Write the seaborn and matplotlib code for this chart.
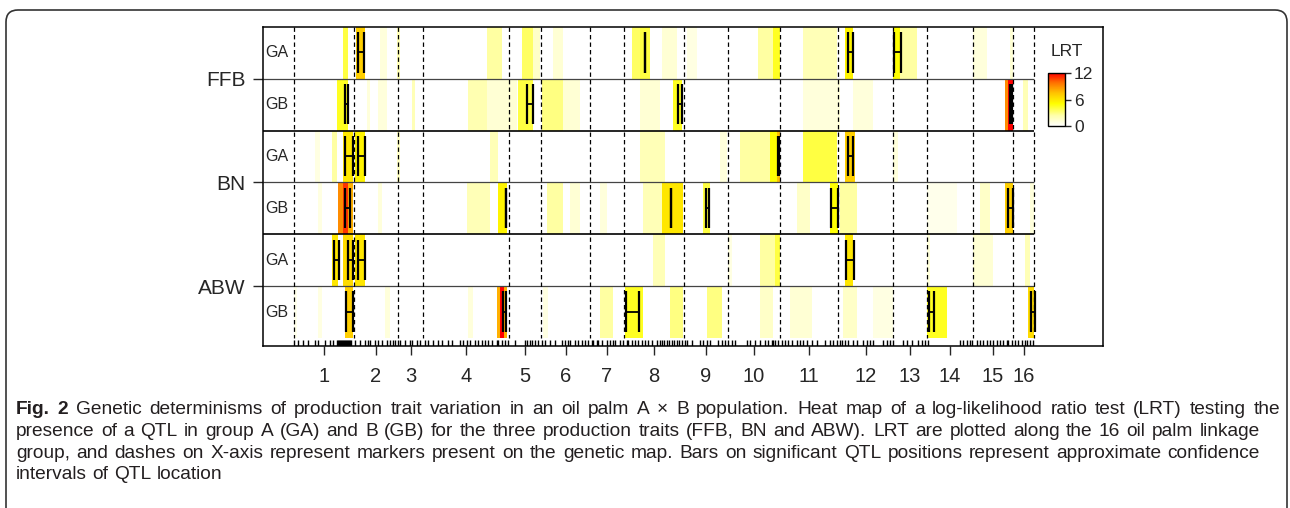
import numpy as np
import pandas as pd
import matplotlib
matplotlib.use("Agg")
import matplotlib.pyplot as plt
import seaborn as sns
from matplotlib.colors import LinearSegmentedColormap
from matplotlib.patches import FancyBboxPatch
from matplotlib.transforms import IdentityTransform

# ---- data -------------------------------------------------------------
# linkage group lengths (cM), groups 1..16
lg_lengths = [60, 44, 25, 86, 32, 49, 34, 60, 44, 52, 58, 55, 34, 46, 40, 21]
lg_labels = [str(i) for i in range(1, 17)]

traits = ["FFB", "BN", "ABW"]
groups = ["GA", "GB"]

# LRT profile as (start cM, end cM, LRT) along the whole genome
ffb_ga_lrt = [(49, 54, 4), (62, 71, 7), (86, 93, 1.0), (103, 106, 2), (193, 208, 2.5),
              (228, 239, 3.5), (239, 246, 1.5), (259, 269, 1.2), (338, 346, 3.5),
              (346, 356, 4), (368, 383, 1.2), (393, 403, 0.8), (464, 479, 2.5),
              (479, 486, 4.5), (509, 543, 2), (551, 559, 5.5), (599, 606, 5),
              (606, 623, 2.5), (679, 693, 1.0), (716, 719, 1.2)]
ffb_gb_lrt = [(43, 54, 4.5), (73, 76, 1.0), (84, 93, 1.0), (118, 121, 2), (174, 193, 2.2),
              (193, 223, 1.2), (224, 239, 4), (248, 269, 3), (269, 286, 1.2),
              (346, 366, 1.2), (379, 388, 4.5), (509, 546, 1.0), (559, 579, 1.0),
              (711, 714, 9), (714, 719, 12), (729, 734, 2)]
bn_ga_lrt = [(21, 26, 0.8), (38, 43, 2.5), (49, 59, 6), (61, 71, 5.5), (103, 106, 1.5),
             (196, 204, 2), (346, 371, 2), (426, 433, 1.0), (446, 476, 2.5),
             (476, 483, 5), (483, 486, 7.5), (509, 543, 4), (551, 561, 7), (599, 604, 1)]
bn_gb_lrt = [(24, 28, 0.8), (44, 49, 9), (49, 54, 11), (54, 59, 8), (84, 88, 1.0),
             (173, 196, 2), (204, 213, 5.5), (253, 269, 2.5), (276, 286, 1.2),
             (306, 313, 1.0), (349, 368, 2), (368, 389, 6), (409, 416, 4),
             (503, 516, 1.5), (536, 544, 5), (546, 563, 2.5), (633, 663, 0.6),
             (686, 696, 1.5), (711, 719, 7), (736, 740, 1.0)]
abw_ga_lrt = [(38, 44, 6), (49, 59, 6.5), (61, 71, 6), (359, 371, 2), (434, 438, 0.8),
              (466, 481, 2.5), (481, 486, 4), (551, 559, 6), (633, 636, 1.0),
              (679, 699, 1.2), (731, 736, 2)]
abw_gb_lrt = [(0, 3, 0.6), (24, 28, 0.8), (51, 59, 7), (91, 96, 1.0), (174, 179, 1.0),
              (203, 206, 8), (206, 210, 12), (210, 213, 8), (249, 254, 0.8),
              (306, 319, 2.5), (331, 349, 4.5), (376, 389, 3), (413, 428, 3),
              (466, 479, 1.5), (496, 518, 1.2), (549, 563, 1.5), (579, 599, 0.8),
              (633, 653, 4.5), (734, 740, 6.5)]

# QTL confidence intervals (lower cM, upper cM)
ffb_ga_ci = [(63, 69), (350, 350), (553, 558), (599, 606)]
ffb_gb_ci = [(50, 53), (232, 238), (383, 387), (715, 717)]
bn_ga_ci = [(50, 58), (63, 70), (483, 484), (553, 558)]
bn_gb_ci = [(50, 55), (211, 211), (376, 376), (411, 414), (536, 543), (713, 718)]
abw_ga_ci = [(39, 44), (53, 58), (63, 70), (551, 559)]
abw_gb_ci = [(51, 58), (208, 211), (331, 344), (634, 639), (736, 740)]

# marker positions on the genetic map (cM)
markers = [0, 4, 9, 14, 21, 24, 31, 36, 39, 43, 44, 45, 46, 47, 48, 49, 50, 51, 52, 53,
           54, 55, 56, 57, 61, 66, 71, 74, 76, 81, 84, 88, 93, 96, 99, 101, 104, 106,
           111, 116, 118, 123, 126, 131, 134, 139, 144, 148, 154, 158, 166, 169, 173,
           176, 181, 184, 188, 191, 194, 198, 203, 204, 208, 211, 214, 221, 231, 233,
           236, 238, 241, 244, 248, 251, 256, 261, 268, 271, 274, 276, 281, 284, 288,
           291, 294, 298, 299, 303, 304, 308, 313, 316, 319, 321, 326, 329, 333, 334,
           338, 341, 344, 348, 351, 354, 358, 363, 366, 368, 370, 373, 375, 378, 380,
           383, 385, 388, 391, 393, 398, 406, 409, 413, 416, 424, 428, 431, 434, 438,
           441, 453, 456, 461, 466, 471, 474, 478, 479, 481, 484, 488, 491, 494, 498,
           503, 506, 509, 513, 518, 523, 531, 536, 539, 543, 546, 548, 551, 554, 559,
           563, 569, 573, 576, 579, 589, 593, 596, 599, 609, 613, 618, 624, 628, 631,
           634, 666, 669, 673, 676, 678, 683, 686, 689, 693, 696, 699, 703, 706, 709,
           713, 714, 718, 721, 724, 728, 731, 733, 736, 739]

caption_lines = [
    "Fig. 2 Genetic determinisms of production trait variation in an oil palm A \u00d7 B population. "
    "Heat map of a log-likelihood ratio test (LRT) testing the",
    "presence of a QTL in group A (GA) and B (GB) for the three production traits (FFB, BN and ABW). "
    "LRT are plotted along the 16 oil palm linkage",
    "group, and dashes on X-axis represent markers present on the genetic map. "
    "Bars on significant QTL positions represent approximate confidence",
    "intervals of QTL location",
]

# ---- layout -----------------------------------------------------------
W, H = 1290, 508
sns.set_style("white")
plt.rcParams["font.family"] = ["Liberation Sans", "DejaVu Sans"]

fig = plt.figure(figsize=(W / 100, H / 100), dpi=100)
fig.patch.set_facecolor("white")
ax = fig.add_axes([263 / W, 1 - 346 / H, 840 / W, 319 / H])
cax = fig.add_axes([1048 / W, 1 - 126 / H, 17 / W, 53 / H])

rows = [ffb_ga_lrt, ffb_gb_lrt, bn_ga_lrt, bn_gb_lrt, abw_ga_lrt, abw_gb_lrt]
cis = [ffb_ga_ci, ffb_gb_ci, bn_ga_ci, bn_gb_ci, abw_ga_ci, abw_gb_ci]
row_names = [f"{t} {g}" for t in traits for g in groups]

total = sum(lg_lengths)
mat = np.zeros((len(rows), total))
for r, bands in enumerate(rows):
    for s, e, v in bands:
        mat[r, s:e] = np.maximum(mat[r, s:e], v)
df = pd.DataFrame(mat, index=row_names)

cmap = LinearSegmentedColormap.from_list(
    "lrt", [(0, "#ffffff"), (0.2, "#ffffa8"), (0.42, "#ffff00"),
            (0.62, "#ffc400"), (0.82, "#ff7000"), (1, "#ff0000")])

sns.heatmap(df, ax=ax, cbar_ax=cax, cmap=cmap, vmin=0, vmax=12,
            xticklabels=False, yticklabels=False, cbar_kws={"ticks": [0, 6, 12]})

bounds = np.concatenate([[0], np.cumsum(lg_lengths)])
centres = bounds[:-1] + np.array(lg_lengths) / 2

# row separators and linkage-group boundaries
ax.hlines([1, 3, 5], -31, total, color="#444444", lw=0.9)
ax.hlines([2, 4], -31, total, color="black", lw=1.2)
ax.vlines(bounds, 0, 6, color="black", lw=0.9, linestyles=(0, (3.5, 2.5)))

# confidence interval bars
for r, ci in enumerate(cis):
    y0, y1 = r + 0.1, r + 0.88
    for lo, hi in ci:
        ax.vlines([lo + 0.5, hi + 0.5], y0, y1, color="black", lw=1.6)
        ax.hlines((y0 + y1) / 2, lo + 0.5, hi + 0.5, color="black", lw=1.3)
    ax.text(-29, r + 0.5, groups[r % 2], ha="left", va="center", fontsize=11.5)

# markers
sns.rugplot(x=markers, ax=ax, height=6 / 319, color="black", lw=0.55,
            expand_margins=False)

ax.set_xlim(-31, 809)
ax.set_ylim(6 + 8 / 51.8, 0)
for s in ax.spines.values():
    s.set_visible(True)
    s.set_color("black")
    s.set_linewidth(1.1)

ax.set_xticks(centres, lg_labels)
ax.set_yticks([1, 3, 5], traits)
ax.tick_params(axis="x", bottom=True, length=6.5, width=1, pad=8.5, labelsize=14.5)
ax.tick_params(axis="y", left=True, length=7.2, width=1, pad=5.5, labelsize=15)
ax.set_xlabel("")
ax.set_ylabel("")

# colour key
cbar = ax.collections[0].colorbar
cbar.outline.set_visible(True)
cbar.outline.set_linewidth(1)
cbar.outline.set_edgecolor("black")
cax.tick_params(length=4.5, width=1, pad=2, labelsize=12.5)
fig.text(1067 / W, 1 - 51 / H, "LRT", ha="center", va="center", fontsize=12.5)

# rounded frame
frame = FancyBboxPatch((6, -40), 1281, 498 + 40,
                       boxstyle="round,pad=0,rounding_size=12",
                       transform=IdentityTransform(), facecolor="none",
                       edgecolor="#333333", lw=1.2)
fig.patches.append(frame)

# caption, laid out word by word and justified like the original
cap_font = ["Liberation Sans Narrow", "Liberation Sans", "DejaVu Sans"]
renderer = fig.canvas.get_renderer()


def text_width(s, fs, weight="normal"):
    t = fig.text(0, 0, s, fontsize=fs, weight=weight, family=cap_font)
    w = t.get_window_extent(renderer=renderer).width
    t.remove()
    return w


x0 = 16
line_ends = [1280, 1260, 1260, None]
baselines = [414, 436, 457.5, 479]

# pick a size at which every full line fits with some room for spacing
fs0 = 12
need = max(text_width(l, fs0) / (e - x0) for l, e in zip(caption_lines, line_ends) if e)
fs = fs0 / need * 0.985

for i, line in enumerate(caption_lines):
    words = line.split(" ")
    weights = ["bold" if (i == 0 and k < 2) else "normal" for k in range(len(words))]
    widths = [text_width(w, fs, wt) for w, wt in zip(words, weights)]
    if line_ends[i]:
        gap = (line_ends[i] - x0 - sum(widths)) / (len(words) - 1)
    else:
        gap = text_width("a a", fs) - 2 * text_width("a", fs)
    x = x0
    for w, wt, wd in zip(words, weights, widths):
        fig.text(x / W, 1 - baselines[i] / H, w, fontsize=fs, weight=wt,
                 family=cap_font, color="#231f20", va="baseline")
        x += wd + gap

fig.savefig("out.png", dpi=100)
